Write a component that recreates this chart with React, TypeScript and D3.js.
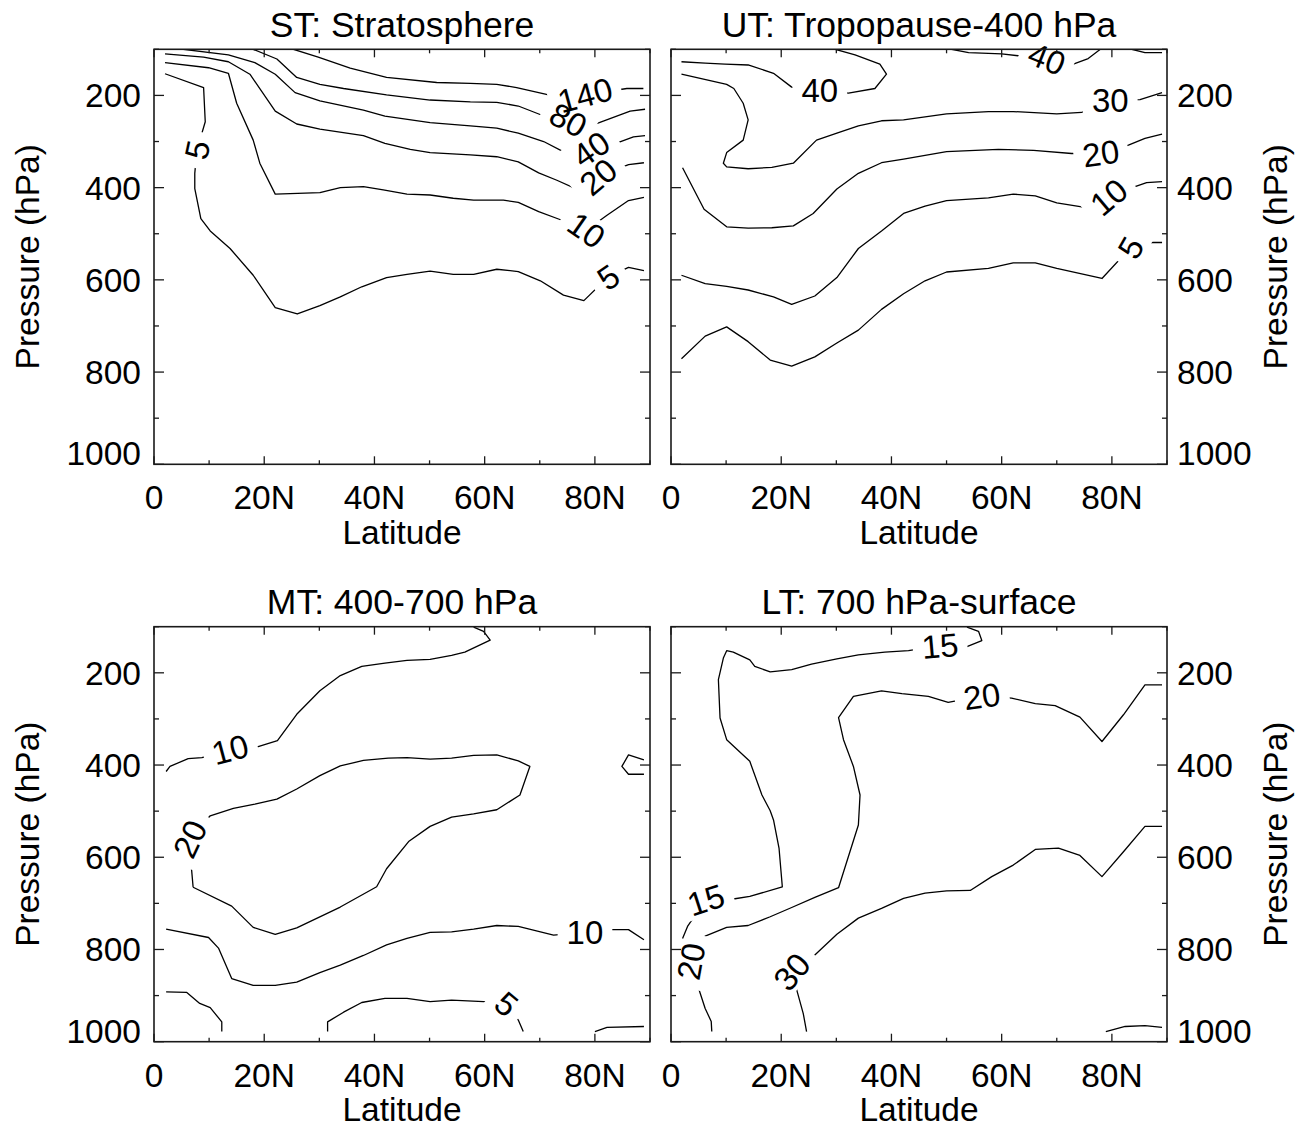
import React from "react";
import * as d3 from "d3";

type Pt = [number, number];
type Label = { text: string; at: Pt; angle: number };
type Contour = { pts: Pt[]; labels: Label[] };

// ---------- axis ticks ----------
const latTicks = [0, 20, 40, 60, 80];
const latTickLabels = ["0", "20N", "40N", "60N", "80N"];
const latMinorTicks = [10, 30, 50, 70, 90];
const presTicks = [200, 400, 600, 800, 1000];
const presTickLabels = ["200", "400", "600", "800", "1000"];
const presMinorTicks = [100, 300, 500, 700, 900];

const panelTitles = [
  "ST: Stratosphere",
  "UT: Tropopause-400 hPa",
  "MT: 400-700 hPa",
  "LT: 700 hPa-surface",
];

// ---------- ST: Stratosphere (lat, hPa) ----------
const stC140: Pt[] = [[25.3,100],[29.8,117],[35.6,141],[42.2,161],[51.3,172],[57.4,174],[62.2,176],[65.8,183],[71.6,199],[78.2,199],[85.8,185],[88.8,185]];
const stC80: Pt[] = [[18.0,100],[22.3,121],[25.9,161],[30.1,176],[34.4,185],[42.2,199],[50.1,210],[57.4,214],[62.2,215],[66.1,223],[70.4,243],[75.2,253],[80.3,261],[86.4,234],[89.1,230]];
const stC40: Pt[] = [[5.3,100],[13.5,112],[18.3,129],[22.0,154],[25.6,194],[30.1,212],[38.0,232],[41.9,245],[50.1,259],[57.4,266],[62.2,271],[66.1,282],[70.7,300],[74.6,324],[79.3,316],[84.3,302],[87.0,290],[89.1,287]];
const stC20: Pt[] = [[2.0,110],[9.0,117],[13.5,127],[17.4,154],[22.0,234],[25.9,262],[30.1,273],[38.0,287],[41.9,304],[46.5,317],[50.1,324],[57.4,329],[62.2,333],[66.1,344],[69.8,368],[73.1,384],[77.0,405],[80.6,376],[86.1,350],[88.9,346]];
const stC10: Pt[] = [[2.0,129],[9.9,140],[13.5,152],[15.0,217],[18.0,297],[19.2,347],[22.0,414],[30.1,411],[33.8,400],[38.0,398],[41.6,405],[45.9,414],[50.1,416],[54.3,423],[58.0,427],[63.4,427],[66.1,432],[69.8,452],[73.4,468],[78.5,492],[82.2,460],[86.1,428],[88.9,421]];
const stC5: Pt[] = [[2.0,153],[9.0,183],[9.3,257],[7.8,318],[7.4,369],[7.4,402],[8.5,467],[10.2,494],[13.8,532],[18.0,590],[22.0,660],[26.0,674],[30.1,656],[33.8,637],[37.7,615],[42.2,595],[45.9,588],[50.1,581],[54.3,588],[58.0,588],[62.2,577],[66.1,582],[70.1,602],[74.3,633],[78.0,645],[82.4,594],[86.1,573],[88.9,580]];

// ---------- UT: Tropopause-400 hPa ----------
const utC40a: Pt[] = [[1.9,127],[6.2,130],[9.8,132],[14.0,134],[18.6,152],[21.9,182],[27.0,189],[32.2,195],[37.0,185],[39.1,154],[37.9,132],[33.4,112],[29.8,100]];
const utC40b: Pt[] = [[50.9,100],[54.0,107],[60.0,110],[63.0,114],[68.2,120],[73.0,132],[75.7,120],[77.9,100]];
const utC40c: Pt[] = [[83.6,100],[86.0,107],[89.1,107]];
const utC30: Pt[] = [[1.9,154],[10.1,176],[11.4,185],[13.1,217],[14.0,253],[13.1,297],[10.1,324],[9.5,347],[10.1,355],[14.0,359],[18.3,356],[22.2,347],[26.4,297],[30.1,282],[34.0,266],[38.2,255],[42.2,253],[50.0,240],[57.6,235],[62.1,235],[70.0,240],[74.5,237],[79.7,210],[85.1,209],[89.1,194]];
const utC20: Pt[] = [[2.1,357],[6.0,447],[10.1,485],[14.0,488],[18.3,487],[22.2,483],[25.8,456],[30.1,403],[34.0,369],[38.2,346],[42.2,338],[50.0,322],[59.4,317],[65.8,319],[72.7,326],[78.0,325],[83.0,308],[86.0,293],[89.1,284]];
const utC10: Pt[] = [[1.9,590],[6.2,608],[10.1,614],[14.0,622],[18.6,637],[21.9,653],[26.1,635],[30.1,595],[34.0,532],[38.2,494],[42.2,456],[46.1,440],[50.0,428],[57.6,422],[62.1,414],[66.1,418],[70.0,433],[75.1,443],[79.4,420],[84.2,398],[86.3,389],[89.1,387]];
const utC5: Pt[] = [[1.9,771],[6.2,722],[10.1,702],[14.0,734],[18.0,774],[21.9,787],[26.1,767],[30.1,737],[34.0,709],[38.2,664],[42.2,630],[46.1,602],[50.0,583],[57.6,575],[62.1,563],[66.1,563],[70.0,575],[78.2,597],[83.4,530],[87.2,519],[89.1,519]];

// ---------- MT: 400-700 hPa ----------
const mtC10a: Pt[] = [[2.2,414],[2.9,403],[6.2,386],[8.7,384],[13.8,366],[18.9,360],[22.4,347],[25.9,290],[30.1,239],[33.8,206],[37.7,186],[41.9,179],[45.9,173],[50.1,171],[54.0,162],[56.4,155],[61.0,129],[59.8,110],[58.0,101]];
const mtC20: Pt[] = [[7.1,665],[6.8,624],[6.5,560],[10.2,510],[14.4,494],[18.3,485],[22.3,474],[25.9,452],[30.1,423],[33.8,402],[38.0,390],[42.5,385],[45.9,384],[50.1,387],[54.0,385],[58.0,379],[62.2,378],[66.1,391],[68.2,403],[66.4,465],[62.2,497],[58.0,506],[54.0,513],[50.1,533],[46.2,566],[42.2,625],[40.4,664],[33.8,708],[25.9,753],[22.0,767],[18.0,752],[14.1,706],[7.1,665]];
const mtC10b: Pt[] = [[2.2,756],[9.9,774],[11.7,797],[14.1,863],[18.0,878],[22.0,878],[25.9,871],[30.1,850],[33.8,834],[38.0,813],[42.2,790],[45.9,776],[50.1,763],[54.0,762],[58.0,756],[62.2,748],[66.1,750],[72.5,769],[78.2,763],[82.8,757],[86.1,757],[88.9,779]];
const mtC5a: Pt[] = [[2.2,892],[5.9,893],[8.3,917],[10.2,926],[12.3,957],[12.3,978]];
const mtC5b: Pt[] = [[31.5,978],[31.5,957],[34.4,936],[37.7,915],[41.9,906],[45.9,906],[50.1,913],[54.0,910],[59.8,913],[64.0,918],[66.1,953],[67.0,978]];
const mtC5c: Pt[] = [[80.0,978],[82.2,969],[88.9,967]];
const mtLoop: Pt[] = [[88.9,389],[86.1,378],[84.9,403],[86.1,420],[88.9,420]];

// ---------- LT: 700 hPa-surface ----------
const ltC15: Pt[] = [[2.1,776],[3.0,750],[6.3,692],[11.6,690],[14.3,685],[20.2,664],[19.6,580],[18.6,519],[18.0,499],[16.5,465],[14.3,392],[10.1,345],[8.9,298],[8.6,215],[9.5,168],[10.1,152],[11.3,155],[14.3,172],[15.2,186],[18.0,198],[21.9,193],[25.5,181],[30.1,170],[34.0,161],[38.8,155],[43.1,152],[48.8,141],[53.7,143],[56.4,130],[55.8,110],[53.7,101]];
const ltC20: Pt[] = [[7.4,978],[7.3,956],[6.2,928],[5.0,884],[3.6,826],[6.2,771],[10.1,752],[14.0,748],[18.0,729],[21.9,709],[26.1,687],[30.4,666],[34.0,530],[34.3,465],[33.1,403],[31.3,345],[30.4,297],[33.1,251],[38.2,239],[41.9,245],[46.7,251],[50.3,264],[56.4,250],[61.8,255],[66.1,267],[69.7,271],[74.2,296],[78.2,349],[82.1,291],[86.0,226],[89.1,226]];
const ltC30: Pt[] = [[24.6,978],[24.0,939],[23.4,913],[21.9,848],[26.1,812],[30.1,767],[34.0,732],[38.2,711],[42.2,689],[46.1,678],[50.0,673],[54.3,672],[58.2,642],[62.1,617],[66.1,583],[70.3,580],[74.2,596],[78.2,642],[82.1,588],[86.0,533],[89.1,533]];
const ltCbr: Pt[] = [[78.9,978],[82.4,967],[86.0,965],[89.1,969]];

const stContours: Contour[] = [
  { pts: stC140, labels: [{ text: "140", at: [78.2, 199], angle: -15 }] },
  { pts: stC80, labels: [{ text: "80", at: [75.2, 253], angle: 28 }] },
  { pts: stC40, labels: [{ text: "40", at: [79.3, 316], angle: -35 }] },
  { pts: stC20, labels: [{ text: "20", at: [80.6, 376], angle: -40 }] },
  { pts: stC10, labels: [{ text: "10", at: [78.5, 492], angle: 35 }] },
  { pts: stC5, labels: [{ text: "5", at: [7.8, 318], angle: -78 }, { text: "5", at: [82.4, 594], angle: -35 }] },
];
const utContours: Contour[] = [
  { pts: utC40a, labels: [{ text: "40", at: [27.0, 189], angle: 0 }] },
  { pts: utC40b, labels: [{ text: "40", at: [68.2, 120], angle: 22 }] },
  { pts: utC40c, labels: [] },
  { pts: utC30, labels: [{ text: "30", at: [79.7, 210], angle: 0 }] },
  { pts: utC20, labels: [{ text: "20", at: [78.0, 325], angle: -8 }] },
  { pts: utC10, labels: [{ text: "10", at: [79.4, 420], angle: -40 }] },
  { pts: utC5, labels: [{ text: "5", at: [83.4, 530], angle: -60 }] },
];
const mtContours: Contour[] = [
  { pts: mtC10a, labels: [{ text: "10", at: [13.8, 366], angle: -15 }] },
  { pts: mtC20, labels: [{ text: "20", at: [6.5, 560], angle: -65 }] },
  { pts: mtC10b, labels: [{ text: "10", at: [78.2, 763], angle: 0 }] },
  { pts: mtC5a, labels: [] },
  { pts: mtC5b, labels: [{ text: "5", at: [64.0, 918], angle: 40 }] },
  { pts: mtC5c, labels: [] },
  { pts: mtLoop, labels: [] },
];
const ltContours: Contour[] = [
  { pts: ltC15, labels: [{ text: "15", at: [6.3, 692], angle: -18 }, { text: "15", at: [48.8, 141], angle: -5 }] },
  { pts: ltC20, labels: [{ text: "20", at: [3.6, 826], angle: -80 }, { text: "20", at: [56.4, 250], angle: -8 }] },
  { pts: ltC30, labels: [{ text: "30", at: [21.9, 848], angle: -50 }] },
  { pts: ltCbr, labels: [] },
];

// ---------- layout ----------
const PW = 496;
const PH = 415;
const FONT = "'Liberation Sans', Arial, Helvetica, sans-serif";
const FS = 33.5;
const TFS = 35.5;
const LFS = 33;

type PanelProps = {
  id: string;
  ox: number;
  oy: number;
  title: string;
  contours: Contour[];
  side: "left" | "right";
};

function Panel({ id, ox, oy, title, contours, side }: PanelProps) {
  const x = d3.scaleLinear().domain([0, 90]).range([ox, ox + PW]);
  const y = d3.scaleLinear().domain([100, 1000]).range([oy, oy + PH]);
  const line = d3.line<Pt>().x((d) => x(d[0])).y((d) => y(d[1]));
  const clipId = `clip-${id}`;
  const ax = "#1a1a1a";
  const bottom = oy + PH;
  const right = ox + PW;

  return (
    <g>
      <defs>
        <clipPath id={clipId}>
          <rect x={ox} y={oy} width={PW} height={PH} />
        </clipPath>
        {contours.map((c, i) => (
          <mask id={`mask-${id}-${i}`} key={i} maskUnits="userSpaceOnUse" x={0} y={0} width={1305} height={1126}>
            <rect x={0} y={0} width={1305} height={1126} fill="white" />
            {c.labels.map((l, j) => {
              const w = l.text.length * 0.556 * LFS + 18;
              const h = LFS * 0.72 + 8;
              return (
                <rect
                  key={j}
                  x={-w / 2}
                  y={-h / 2}
                  width={w}
                  height={h}
                  fill="black"
                  transform={`translate(${x(l.at[0])},${y(l.at[1])}) rotate(${l.angle})`}
                />
              );
            })}
          </mask>
        ))}
      </defs>

      {/* contours */}
      <g clipPath={`url(#${clipId})`}>
        {contours.map((c, i) => (
          <path
            key={i}
            d={line(c.pts) || ""}
            fill="none"
            stroke="#000"
            strokeWidth={1.3}
            strokeLinejoin="round"
            mask={c.labels.length ? `url(#mask-${id}-${i})` : undefined}
          />
        ))}
      </g>
      {contours.map((c, i) =>
        c.labels.map((l, j) => (
          <text
            key={`${i}-${j}`}
            transform={`translate(${x(l.at[0])},${y(l.at[1])}) rotate(${l.angle})`}
            y={LFS * 0.36}
            textAnchor="middle"
            fontSize={LFS}
            fontFamily={FONT}
            fill="#000"
          >
            {l.text}
          </text>
        ))
      )}

      {/* frame */}
      <rect x={ox} y={oy} width={PW} height={PH} fill="none" stroke={ax} strokeWidth={1.6} />

      {/* x ticks */}
      {latTicks.map((t) => (
        <g key={`xt${t}`}>
          <line x1={x(t)} x2={x(t)} y1={bottom} y2={bottom - 8} stroke={ax} strokeWidth={1.3} />
          <line x1={x(t)} x2={x(t)} y1={oy} y2={oy + 8} stroke={ax} strokeWidth={1.3} />
        </g>
      ))}
      {latMinorTicks.map((t) => (
        <g key={`xm${t}`}>
          <line x1={x(t)} x2={x(t)} y1={bottom} y2={bottom - 4} stroke={ax} strokeWidth={1.3} />
          <line x1={x(t)} x2={x(t)} y1={oy} y2={oy + 4} stroke={ax} strokeWidth={1.3} />
        </g>
      ))}
      {/* y ticks */}
      {presTicks.map((t) => (
        <g key={`yt${t}`}>
          <line x1={ox} x2={ox + 10} y1={y(t)} y2={y(t)} stroke={ax} strokeWidth={1.3} />
          <line x1={right} x2={right - 10} y1={y(t)} y2={y(t)} stroke={ax} strokeWidth={1.3} />
        </g>
      ))}
      {presMinorTicks.map((t) => (
        <g key={`ym${t}`}>
          <line x1={ox} x2={ox + 5} y1={y(t)} y2={y(t)} stroke={ax} strokeWidth={1.3} />
          <line x1={right} x2={right - 5} y1={y(t)} y2={y(t)} stroke={ax} strokeWidth={1.3} />
        </g>
      ))}

      {/* x tick labels */}
      {latTicks.map((t, i) => (
        <text key={`xl${t}`} x={x(t)} y={bottom + 45} textAnchor="middle" fontSize={FS} fontFamily={FONT}>
          {latTickLabels[i]}
        </text>
      ))}
      <text x={ox + PW / 2} y={bottom + 79.5} textAnchor="middle" fontSize={FS} fontFamily={FONT}>
        Latitude
      </text>

      {/* y tick labels */}
      {presTicks.map((t, i) => (
        <text
          key={`yl${t}`}
          x={side === "left" ? ox - 13 : right + 10}
          y={t === 1000 ? y(t) + 1 : y(t) + 12}
          textAnchor={side === "left" ? "end" : "start"}
          fontSize={FS}
          fontFamily={FONT}
        >
          {presTickLabels[i]}
        </text>
      ))}
      <text
        transform={`translate(${side === "left" ? 38.5 : 1287},${oy + PH / 2}) rotate(-90)`}
        textAnchor="middle"
        fontSize={FS}
        fontFamily={FONT}
      >
        Pressure (hPa)
      </text>

      {/* title */}
      <text x={ox + PW / 2} y={oy - 12.5} textAnchor="middle" fontSize={TFS} fontFamily={FONT}>
        {title}
      </text>
    </g>
  );
}

export default function App() {
  return (
    <svg
      width={1305}
      height={1126}
      style={{ position: "absolute", left: 0, top: 0, background: "#fff" }}
    >
      <rect x={0} y={0} width={1305} height={1126} fill="#fff" />
      <Panel id="st" ox={154} oy={49.3} title={panelTitles[0]} contours={stContours} side="left" />
      <Panel id="ut" ox={671} oy={49.3} title={panelTitles[1]} contours={utContours} side="right" />
      <Panel id="mt" ox={154} oy={626.7} title={panelTitles[2]} contours={mtContours} side="left" />
      <Panel id="lt" ox={671} oy={626.7} title={panelTitles[3]} contours={ltContours} side="right" />
    </svg>
  );
}
